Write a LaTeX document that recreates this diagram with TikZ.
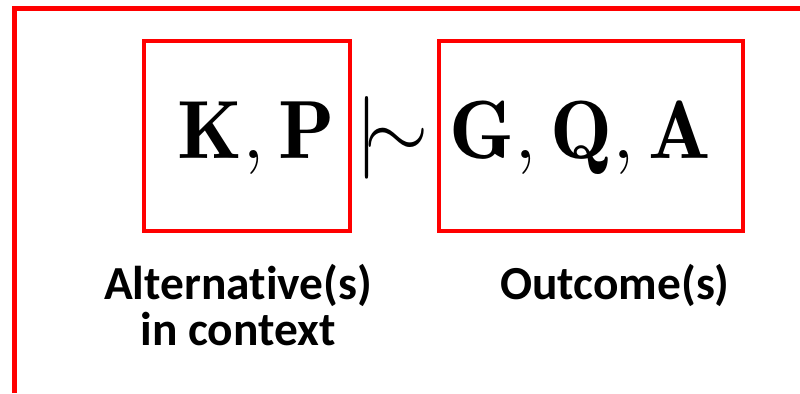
\RequirePackage{fix-cm}
\documentclass[tikz,border=0pt]{standalone}
\usepackage{fontspec}
\newfontfamily\labelfont[Ligatures=NoCommon]{Carlito}
\def\sc{0.02cm}
\def\rel{\mathrel{|}\joinrel\sim}
\tikzset{
  redbox/.style={draw=red, line width=0.08cm, inner sep=0pt},
  big/.style={inner sep=0pt, anchor=base, font=\fontsize{47}{52}\selectfont},
  caption/.style={inner sep=0pt, anchor=base, align=center,
    font=\labelfont\bfseries\fontsize{27}{26}\selectfont}
}
\begin{document}
\begin{tikzpicture}[x=\sc,y=-\sc]
\useasboundingbox (0,0) rectangle (800,393);
% open frame: left and top sides only
\draw [red, line width=0.1cm] (14.5,393) -- (14.5,8.5) -- (800,8.5);
% the two boxes
\node [redbox, minimum width=4.12cm, minimum height=3.8cm] (left) at (247,136) {};
\node [redbox, minimum width=6.08cm, minimum height=3.8cm] (right) at (591,136) {};
% the formula
\node [big] (kp) at (256,158) {$\mathbf{K},\mathbf{P}$};
\node [big] (nm) at (392,158) {$\rel$};
\node [big] (gqa) at (580,158) {$\mathbf{G},\mathbf{Q},\mathbf{A}$};
% captions (base is the last line)
\node [caption] (alt) at (238,345) {Alternative(s)\\in context};
\node [caption] (out) at (615,299) {Outcome(s)};
\end{tikzpicture}
\end{document}
